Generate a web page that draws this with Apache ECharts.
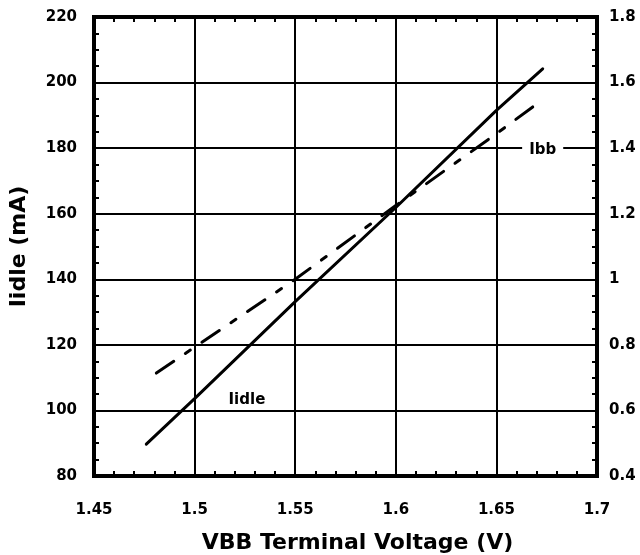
<!DOCTYPE html>
<html>
<head>
<meta charset="utf-8">
<script src="https://cdn.jsdelivr.net/npm/echarts@6/dist/echarts.min.js"></script>
<style>html,body{margin:0;padding:0;background:#fff;}#c{width:640px;height:555px;}</style>
</head>
<body>
<div id="c"></div>
<script>
// Data
const vbbIdle = [1.476, 1.5, 1.55, 1.6, 1.65, 1.673];
const idleMA  = [89.7, 103.6, 133.2, 161.9, 191.5, 204.2];
const vbbIbb  = [1.481, 1.5, 1.55, 1.6, 1.65, 1.669];
const ibbVal  = [0.714, 0.793, 1.0, 1.225, 1.444, 1.53];
const xRange = [1.45, 1.7];
const yLeftRange = [80, 220];
const yRightRange = [0.4, 1.8];
const labelIdle = {text: 'Iidle', x: 1.526, y: 103.0};
const labelIbb  = {text: 'Ibb',   x: 1.673, y: 179.3};

const FONT = 'DejaVu Sans';
const tickLabel = {color:'#000', fontFamily:FONT, fontWeight:'bold', fontSize:15};
const minor = (n) => ({show:true, splitNumber:n, length:5, lineStyle:{color:'#000', width:2}});
const tick = {show:true, inside:true, length:5, lineStyle:{color:'#000', width:2}};

const chart = echarts.init(document.getElementById('c'), null, {renderer:'canvas'});
chart.setOption({
  animation:false,
  backgroundColor:'#fff',
  grid:{left:94, right:43, top:17, bottom:79, show:true, borderColor:'#000', borderWidth:4,
        backgroundColor:'transparent', containLabel:false, outerBoundsMode:'none'},
  xAxis:[{
    type:'value', min:xRange[0], max:xRange[1], interval:0.05,
    axisLine:{show:false}, axisTick:tick, minorTick:minor(5),
    splitLine:{show:true, lineStyle:{color:'#000', width:2}},
    axisLabel:Object.assign({margin:27}, tickLabel),
    name:'VBB Terminal Voltage (V)', nameLocation:'middle', nameGap:56,
    nameTextStyle:{color:'#000', fontFamily:FONT, fontWeight:'bold', fontSize:22, padding:[0,0,0,24]}
  },{
    type:'value', position:'top', min:xRange[0], max:xRange[1], interval:0.05,
    axisLine:{show:false}, axisTick:tick, minorTick:minor(5),
    splitLine:{show:false}, axisLabel:{show:false}
  }],
  yAxis:[{
    type:'value', position:'left', min:yLeftRange[0], max:yLeftRange[1], interval:20,
    axisLine:{show:false}, axisTick:tick, minorTick:minor(4),
    splitLine:{show:true, lineStyle:{color:'#000', width:2}},
    axisLabel:Object.assign({margin:17, padding:[8,0,0,0]}, tickLabel),
    name:'Iidle (mA)', nameLocation:'middle', nameGap:64,
    nameTextStyle:{color:'#000', fontFamily:FONT, fontWeight:'bold', fontSize:22}
  },{
    type:'value', position:'right', min:yRightRange[0], max:yRightRange[1], interval:0.2,
    axisLine:{show:false}, axisTick:tick, minorTick:minor(4),
    splitLine:{show:false},
    axisLabel:Object.assign({margin:12, padding:[4,0,0,0]}, tickLabel)
  }],
  series:[{
    name:'Iidle', type:'line', xAxisIndex:0, yAxisIndex:0, symbol:'none',
    data: vbbIdle.map((v,i)=>[v, idleMA[i]]),
    lineStyle:{color:'#000', width:3, cap:'round'},
    markPoint:{
      symbol:'circle', symbolSize:1, itemStyle:{color:'rgba(0,0,0,0)'},
      label:{show:true, position:'inside', color:'#000', fontFamily:FONT, fontWeight:'bold', fontSize:15},
      data:[
        {coord:[labelIdle.x, labelIdle.y], label:{formatter:labelIdle.text}},
        {coord:[labelIbb.x, labelIbb.y], label:{formatter:labelIbb.text, backgroundColor:'#fff', padding:[2,7,2,7]}}
      ]
    },
    z:3
  },{
    name:'Ibb', type:'line', xAxisIndex:0, yAxisIndex:1, symbol:'none',
    data: vbbIbb.map((v,i)=>[v, ibbVal[i]]),
    lineStyle:{color:'#000', width:3, type:[21,14,6,14], cap:'round'},
    z:2
  }]
});
</script>
</body>
</html>
